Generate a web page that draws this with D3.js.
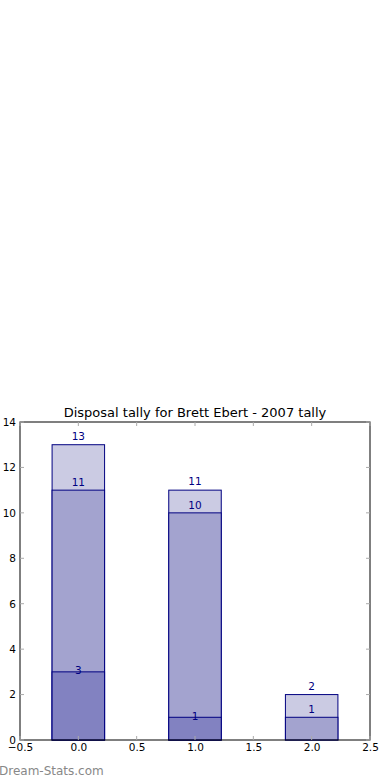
<!DOCTYPE html>
<html>
<head>
<meta charset="utf-8">
<script src="https://d3js.org/d3.v7.min.js"></script>
<style>
  body { margin: 0; background: #fff; }
  text { font-family: "DejaVu Sans", sans-serif; }
</style>
</head>
<body>
<div id="chart"></div>
<script>
// cumulative heights per layer, drawn back to front
var positions = [0, 1, 2];
var topLayer = [13, 11, 2];
var midLayer = [11, 10, 1];
var lowLayer = [3, 1, 0];
var xTicks = [-0.5, 0.0, 0.5, 1.0, 1.5, 2.0, 2.5];
var yTicks = [0, 2, 4, 6, 8, 10, 12, 14];
var title = "Disposal tally for Brett Ebert - 2007 tally";

var width = 390, height = 780;
var plotLeft = 20, plotRight = 370, plotTop = 422, plotBottom = 740;

var svg = d3.select("#chart").append("svg")
    .attr("width", width)
    .attr("height", height);

var x = d3.scaleLinear().domain([-0.5, 2.5]).range([plotLeft, plotRight]);
var y = d3.scaleLinear().domain([0, 14]).range([plotBottom, plotTop]);
var barW = 0.45;

var layers = [
  {vals: topLayer, fill: "#cbcbe3", dy: -5},
  {vals: midLayer, fill: "#a3a3cf", dy: -4},
  {vals: lowLayer, fill: "#8282c1", dy: 2.5}
];

layers.forEach(function(l) {
  svg.append("g").selectAll("rect")
    .data(positions.filter(function(p, i) { return l.vals[i] > 0; }))
    .enter().append("rect")
    .attr("x", function(p) { return x(p - barW / 2); })
    .attr("width", function(p) { return x(p + barW / 2) - x(p - barW / 2); })
    .attr("y", function(p) { return y(l.vals[p]); })
    .attr("height", function(p) { return plotBottom - y(l.vals[p]); })
    .attr("fill", l.fill)
    .attr("stroke", "#000080")
    .attr("stroke-width", 1);
});

layers.forEach(function(l) {
  svg.append("g").selectAll("text")
    .data(positions.filter(function(p, i) { return l.vals[i] > 0; }))
    .enter().append("text")
    .attr("x", function(p) { return x(p); })
    .attr("y", function(p) { return y(l.vals[p]) + l.dy; })
    .attr("text-anchor", "middle")
    .attr("font-size", "10.5px")
    .attr("fill", "#000080")
    .text(function(p) { return l.vals[p]; });
});

// frame
svg.append("rect")
  .attr("x", plotLeft).attr("y", plotTop)
  .attr("width", plotRight - plotLeft).attr("height", plotBottom - plotTop)
  .attr("fill", "none").attr("stroke", "#000").attr("stroke-width", 1);

// inward ticks on all sides
var tl = 4;
xTicks.forEach(function(t) {
  svg.append("line").attr("x1", x(t)).attr("x2", x(t)).attr("y1", plotBottom).attr("y2", plotBottom - tl).attr("stroke", "#aaa");
  svg.append("line").attr("x1", x(t)).attr("x2", x(t)).attr("y1", plotTop).attr("y2", plotTop + tl).attr("stroke", "#aaa");
});
yTicks.forEach(function(t) {
  svg.append("line").attr("x1", plotLeft).attr("x2", plotLeft + tl).attr("y1", y(t)).attr("y2", y(t)).attr("stroke", "#aaa");
  svg.append("line").attr("x1", plotRight).attr("x2", plotRight - tl).attr("y1", y(t)).attr("y2", y(t)).attr("stroke", "#aaa");
});

var xAxis = d3.axisBottom(x).tickValues(xTicks).tickSize(0).tickPadding(4)
  .tickFormat(function(d) { return d3.format(".1f")(d).replace("-", "\u2212"); });
var gx = svg.append("g").attr("transform", "translate(0," + plotBottom + ")").call(xAxis);
gx.select(".domain").remove();
gx.selectAll("text").attr("font-size", "10.5px").attr("fill", "#000").attr("font-family", "DejaVu Sans");

var yAxis = d3.axisLeft(y).tickValues(yTicks).tickSize(0).tickPadding(4).tickFormat(d3.format("d"));
var gy = svg.append("g").attr("transform", "translate(" + plotLeft + ",0)").call(yAxis);
gy.select(".domain").remove();
gy.selectAll("text").attr("font-size", "10.5px").attr("fill", "#000").attr("font-family", "DejaVu Sans");

svg.append("text")
  .attr("x", (plotLeft + plotRight) / 2)
  .attr("y", 417)
  .attr("text-anchor", "middle")
  .attr("font-size", "13px")
  .attr("fill", "#000")
  .text(title);

svg.append("text")
  .attr("x", -1)
  .attr("y", 775)
  .attr("font-size", "12px")
  .attr("fill", "#888")
  .text("Dream-Stats.com");
</script>
</body>
</html>
